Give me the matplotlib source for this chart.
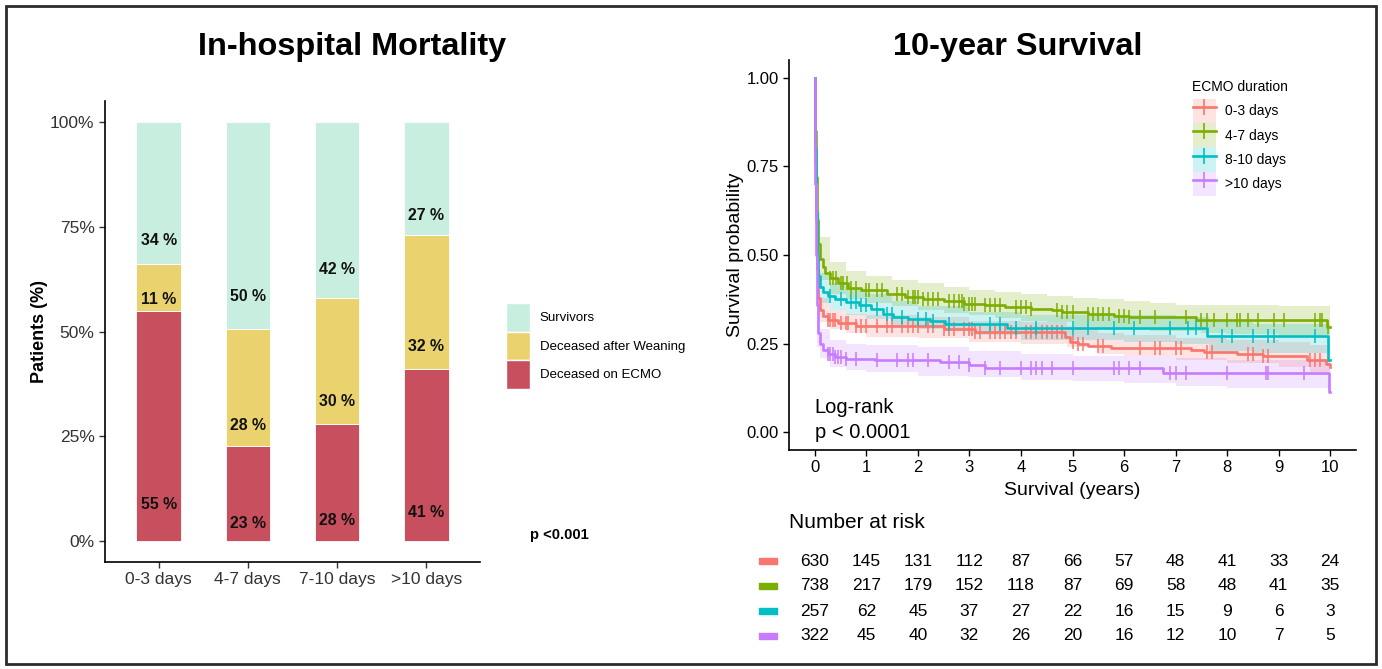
import matplotlib
matplotlib.use('Agg')
import matplotlib.pyplot as plt
import numpy as np
from matplotlib import font_manager
from matplotlib.patches import Patch, Rectangle
from matplotlib.lines import Line2D
from matplotlib.legend_handler import HandlerTuple

# ---------------- in-hospital mortality (stacked %)
groups = ['0-3 days', '4-7 days', '7-10 days', '>10 days']
on_ecmo = [55, 23, 28, 41]
after_weaning = [11, 28, 30, 32]
survivors = [34, 50, 42, 27]

# ---------------- 10-year survival
km_labels = ['0-3 days', '4-7 days', '8-10 days', '>10 days']
km_colors = ['#F8766D', '#7CAE00', '#00BFC4', '#C77CFF']

t_03 = [0, 0.01, 0.02, 0.04, 0.07, 0.1, 0.15, 0.25, 0.45, 0.8, 2.5, 3.1, 4.85, 4.95, 5.1, 5.3, 5.75,
        7.3, 7.55, 8.2, 8.7, 9.55, 9.92, 10.0]
s_03 = [1.0, 0.76, 0.6, 0.46, 0.38, 0.345, 0.328, 0.316, 0.307, 0.3, 0.292, 0.284, 0.268, 0.256, 0.248,
        0.243, 0.238, 0.232, 0.226, 0.221, 0.214, 0.204, 0.193, 0.185]
t_47 = [0, 0.01, 0.02, 0.04, 0.07, 0.1, 0.15, 0.2, 0.3, 0.45, 0.65, 0.9, 1.4, 1.75, 2.1, 2.5, 2.9, 3.3,
        3.7, 4.2, 4.6, 4.8, 5.3, 5.8, 6.1, 7.4, 9.94, 10.0]
s_47 = [1.0, 0.85, 0.72, 0.6, 0.53, 0.49, 0.465, 0.45, 0.435, 0.42, 0.408, 0.4, 0.39, 0.382, 0.376, 0.37,
        0.363, 0.358, 0.352, 0.348, 0.344, 0.338, 0.333, 0.328, 0.324, 0.317, 0.297, 0.297]
t_810 = [0, 0.01, 0.02, 0.04, 0.07, 0.1, 0.15, 0.25, 0.4, 0.6, 0.85, 1.1, 1.33, 1.52, 1.8, 2.24, 2.52,
         3.72, 7.6, 9.96, 10.0]
s_810 = [1.0, 0.8, 0.62, 0.5, 0.44, 0.41, 0.395, 0.385, 0.375, 0.368, 0.36, 0.348, 0.333, 0.325, 0.32,
         0.313, 0.306, 0.294, 0.272, 0.205, 0.205]
t_10 = [0, 0.01, 0.02, 0.04, 0.07, 0.1, 0.15, 0.25, 0.4, 0.6, 1.17, 2.43, 3.0, 3.3, 6.76, 9.97, 10.0]
s_10 = [1.0, 0.7, 0.5, 0.36, 0.28, 0.25, 0.233, 0.222, 0.213, 0.207, 0.203, 0.197, 0.19, 0.182, 0.168,
        0.115, 0.115]

# confidence bands
bt_03 = [0, 0.05, 0.1, 0.3, 0.6, 1, 2, 3, 4, 4.9, 5.5, 6, 7, 8, 9, 9.6, 10]
lo_03 = [1, 0.34, 0.31, 0.29, 0.28, 0.27, 0.265, 0.255, 0.25, 0.24, 0.22, 0.215, 0.205, 0.195, 0.185, 0.17, 0.16]
hi_03 = [1, 0.43, 0.38, 0.345, 0.335, 0.33, 0.325, 0.315, 0.31, 0.3, 0.28, 0.275, 0.265, 0.26, 0.255, 0.245, 0.24]
bt_47 = [0, 0.05, 0.1, 0.3, 0.6, 1, 1.5, 2, 2.5, 3, 3.5, 4, 4.5, 5, 5.5, 6, 6.5, 7, 7.5, 8, 9, 10]
lo_47 = [1, 0.5, 0.43, 0.39, 0.375, 0.365, 0.355, 0.345, 0.337, 0.33, 0.322, 0.315, 0.31, 0.3, 0.295, 0.29,
         0.287, 0.285, 0.28, 0.278, 0.275, 0.27]
hi_47 = [1, 0.62, 0.55, 0.48, 0.455, 0.44, 0.43, 0.42, 0.41, 0.4, 0.395, 0.39, 0.385, 0.38, 0.375, 0.37,
         0.365, 0.36, 0.36, 0.358, 0.357, 0.357]
bt_810 = [0, 0.05, 0.1, 0.3, 0.6, 1, 1.5, 2, 3, 4, 5, 6, 7, 7.65, 8.5, 10]
lo_810 = [1, 0.42, 0.365, 0.345, 0.33, 0.32, 0.3, 0.29, 0.275, 0.26, 0.26, 0.255, 0.25, 0.23, 0.225, 0.15]
hi_810 = [1, 0.55, 0.45, 0.42, 0.405, 0.39, 0.37, 0.355, 0.34, 0.33, 0.33, 0.33, 0.325, 0.31, 0.305, 0.3]
bt_10 = [0, 0.05, 0.1, 0.3, 0.6, 1, 2, 3, 4, 5, 6, 7, 8, 9, 10]
lo_10 = [1, 0.24, 0.21, 0.185, 0.175, 0.17, 0.16, 0.155, 0.148, 0.145, 0.14, 0.13, 0.125, 0.125, 0.09]
hi_10 = [1, 0.34, 0.29, 0.26, 0.25, 0.245, 0.24, 0.23, 0.22, 0.215, 0.215, 0.21, 0.205, 0.205, 0.2]

# censoring times
c_03 = [0.25, 0.3, 0.35, 0.4, 0.5, 0.6, 0.65, 0.8, 0.9, 1.0, 1.2, 1.4, 1.5, 1.7, 1.8, 1.9, 2.0, 2.2, 2.3,
        2.5, 2.6, 2.7, 2.9, 3.0, 3.05, 3.1, 3.2, 3.4, 3.5, 3.6, 3.7, 3.8, 3.9, 4.1, 4.2, 4.3, 4.4, 4.5,
        4.6, 4.7, 4.8, 5.0, 5.1, 5.2, 5.5, 5.6, 6.3, 6.6, 6.7, 7.0, 7.1, 7.6, 7.7, 8.4, 8.5, 8.7, 8.8,
        9.6, 9.7, 9.8]
c_47 = [0.3, 0.35, 0.42, 0.5, 0.55, 0.62, 0.7, 0.8, 1.0, 1.05, 1.2, 1.3, 1.6, 1.7, 1.8, 1.9, 1.95, 2.0,
        2.1, 2.2, 2.3, 2.4, 2.6, 2.7, 2.8, 2.85, 2.9, 3.0, 3.05, 3.1, 3.3, 3.4, 3.5, 3.6, 3.9, 4.0, 4.1,
        4.2, 4.7, 4.8, 4.9, 5.0, 5.3, 5.4, 5.5, 5.6, 5.7, 5.9, 6.0, 6.1, 6.3, 6.6, 7.2, 7.5, 7.6, 7.75,
        8.0, 8.2, 8.25, 8.4, 8.6, 8.9, 9.1, 9.7, 9.8, 9.85, 9.95]
c_810 = [0.3, 0.5, 0.7, 0.8, 0.9, 1.0, 1.2, 1.4, 1.5, 1.7, 2.0, 2.15, 2.3, 2.6, 3.4, 3.6, 3.9, 4.3, 5.0,
         5.3, 5.8, 6.2, 6.9, 7.25, 7.4, 7.9, 8.1, 8.5, 8.8, 8.9, 9.7]
c_10 = [0.25, 0.3, 0.35, 0.4, 0.45, 0.5, 0.6, 0.8, 1.2, 1.6, 1.8, 1.9, 2.2, 2.6, 2.8, 3.0, 3.3, 3.6,
        4.0, 4.2, 4.3, 4.4, 4.6, 5.0, 5.8, 5.9, 6.1, 6.3, 6.9, 7.0, 7.2, 8.0, 8.75, 8.8, 9.5]

risk_times = list(range(11))
risk_03 = [630, 145, 131, 112, 87, 66, 57, 48, 41, 33, 24]
risk_47 = [738, 217, 179, 152, 118, 87, 69, 58, 48, 41, 35]
risk_810 = [257, 62, 45, 37, 27, 22, 16, 15, 9, 6, 3]
risk_10 = [322, 45, 40, 32, 26, 20, 16, 12, 10, 7, 5]

# ---------------- fonts
names = {f.name for f in font_manager.fontManager.ttflist}
REG = 'Liberation Sans' if 'Liberation Sans' in names else 'DejaVu Sans'
if 'Liberation Sans Narrow' in names:
    NAR, nscale = 'Liberation Sans Narrow', 1.0
else:
    NAR, nscale = REG, 0.82
plt.rcParams['font.family'] = [REG, 'DejaVu Sans']

W, H = 1382, 669
fig = plt.figure(figsize=(W / 100, H / 100), dpi=100)
fig.patch.set_facecolor('white')

def fx(px):
    return px / W

def fy(py):
    return 1 - py / H

tick_col = '#333333'

# ================= left panel
ax1 = fig.add_axes([fx(105), fy(562), fx(480 - 105), (562 - 101) / H])
x = np.arange(1, len(groups) + 1)
tot = np.array(on_ecmo) + np.array(after_weaning) + np.array(survivors)
segs = [(on_ecmo, '#C84F5D', 'Deceased on ECMO'),
        (after_weaning, '#EAD36F', 'Deceased after Weaning'),
        (survivors, '#C7EEDE', 'Survivors')]
bottom = np.zeros(len(groups))
for vals, col, lab in segs:
    h = np.array(vals) / tot * 100
    ax1.bar(x, h, 0.5, bottom=bottom, color=col, edgecolor='white', linewidth=0.6)
    for xi, b, hi, v in zip(x, bottom, h, vals):
        ax1.text(xi, b + 0.14 * hi + 1.0, f'{v} %', ha='center', va='center',
                 fontsize=14 * nscale, fontweight='bold', family=NAR, color='#111111')
    bottom = bottom + h

ax1.set_xlim(0.4, 4.6)
ax1.set_ylim(-5, 105)
ax1.set_xticks(x)
ax1.set_xticklabels(groups)
ax1.set_yticks([0, 25, 50, 75, 100])
ax1.set_yticklabels(['0%', '25%', '50%', '75%', '100%'])
ax1.tick_params(labelsize=12.5, colors=tick_col, length=4, width=1, labelcolor=tick_col)
for sp in ['top', 'right']:
    ax1.spines[sp].set_visible(False)
for sp in ['left', 'bottom']:
    ax1.spines[sp].set_linewidth(1.2)
ax1.set_ylabel('Patients (%)', fontsize=13, fontweight='bold')
ax1.yaxis.set_label_coords(-0.152, 0.5)

handles1 = [Patch(facecolor=c, edgecolor='white', linewidth=1) for _, c, _ in segs[::-1]]
labels1 = [l for _, _, l in segs[::-1]]
fig.legend(handles1, labels1, loc='center left', bbox_to_anchor=(fx(506), fy(346)),
           frameon=False, fontsize=9.5, handlelength=1.8, handleheight=2.95,
           labelspacing=0.0, handletextpad=0.75, borderpad=0, borderaxespad=0)
fig.text(fx(530), fy(535), 'p <0.001', fontsize=13 * nscale, fontweight='bold', family=NAR,
         ha='left', va='center')

fig.text(fx(352), fy(47), 'In-hospital Mortality', fontsize=28.5 * nscale, fontweight='bold',
         family=NAR, ha='center', va='center')
fig.text(fx(1018), fy(47), '10-year Survival', fontsize=28.5 * nscale, fontweight='bold',
         family=NAR, ha='center', va='center')

# ================= right panel
ax2 = fig.add_axes([fx(789), fy(450), fx(1356 - 789), (450 - 60) / H])
curves = [(t_03, s_03, bt_03, lo_03, hi_03, c_03),
          (t_47, s_47, bt_47, lo_47, hi_47, c_47),
          (t_810, s_810, bt_810, lo_810, hi_810, c_810),
          (t_10, s_10, bt_10, lo_10, hi_10, c_10)]
for (t, s, bt, lo, hi, cz), col in zip(curves, km_colors):
    ax2.fill_between(bt, lo, hi, step='post', color=col, alpha=0.2, linewidth=0)
for (t, s, bt, lo, hi, cz), col in zip(curves, km_colors):
    ax2.step(t, s, where='post', color=col, linewidth=1.9)
    idx = np.searchsorted(t, cz, side='right') - 1
    ax2.plot(cz, np.array(s)[idx], linestyle='none', marker='|', markersize=10,
             markeredgewidth=1.1, color=col)

ax2.set_xlim(-0.5, 10.5)
ax2.set_ylim(-0.05, 1.05)
ax2.set_xticks(risk_times)
ax2.set_yticks([0, 0.25, 0.5, 0.75, 1.0])
ax2.set_yticklabels(['0.00', '0.25', '0.50', '0.75', '1.00'])
ax2.tick_params(labelsize=12, colors='black', length=4, width=1)
for sp in ['top', 'right']:
    ax2.spines[sp].set_visible(False)
for sp in ['left', 'bottom']:
    ax2.spines[sp].set_linewidth(1.2)
ax2.set_ylabel('Survival probability', fontsize=14)
ax2.yaxis.set_label_coords(-0.08, 0.5)
ax2.set_xlabel('Survival (years)', fontsize=14)
ax2.xaxis.set_label_coords(0.5, -0.082)
ax2.text(0, 0.07, 'Log-rank', fontsize=14.5, ha='left', va='center')
ax2.text(0, 0.0, 'p < 0.0001', fontsize=14.5, ha='left', va='center')

handles2 = [(Patch(facecolor=c, alpha=0.2, linewidth=0),
             Line2D([], [], color=c, linewidth=1.9, marker='|', markersize=12, markeredgewidth=1.2))
            for c in km_colors]
fig.text(fx(1192), fy(87), 'ECMO duration', fontsize=10, ha='left', va='center')
fig.legend(handles2, km_labels, loc='upper left',
           bbox_to_anchor=(fx(1193), fy(99)), frameon=False, fontsize=10,
           handlelength=1.65, handleheight=2.3, labelspacing=0.0,
           handletextpad=0.65, borderpad=0, borderaxespad=0,
           handler_map={tuple: HandlerTuple(ndivide=1)})

# ================= number at risk table
ax3 = fig.add_axes([fx(789), fy(648.5), fx(1356 - 789), 100 / H])
ax3.set_xlim(-0.5, 10.5)
ax3.set_ylim(0, 4)
ax3.axis('off')
dash = [(-1.4, -0.5), (1.4, -0.5), (1.4, 0.5), (-1.4, 0.5), (-1.4, -0.5)]
for i, (row, col) in enumerate(zip([risk_03, risk_47, risk_810, risk_10], km_colors)):
    y = 3.5 - i
    ax3.plot([-0.9], [y], marker=dash, markersize=12.5, color=col, linestyle='none', clip_on=False)
    for tx, n in zip(risk_times, row):
        ax3.text(tx, y, str(n), ha='center', va='center', fontsize=12.5)
fig.text(fx(789), fy(523), 'Number at risk', fontsize=15, ha='left', va='center')

# outer frame
fig.add_artist(Rectangle((fx(6), fy(664)), fx(1376 - 6), (664 - 6) / H, transform=fig.transFigure,
                         fill=False, edgecolor='#2b2b2b', linewidth=2))

fig.savefig('out.png', dpi=100)
